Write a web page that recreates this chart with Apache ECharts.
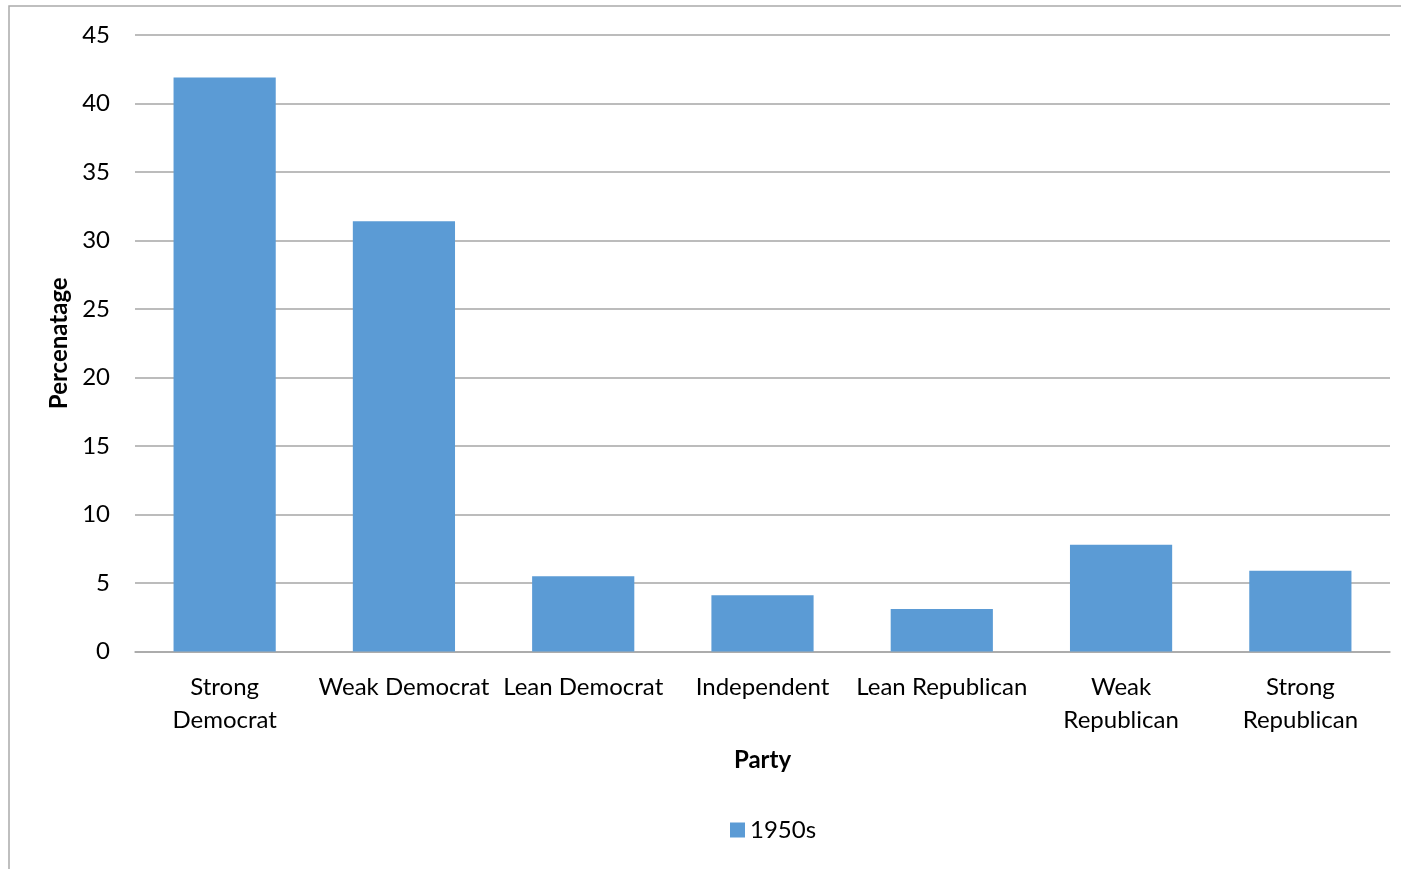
<!DOCTYPE html>
<html>
<head>
<meta charset="utf-8">
<script src="https://cdn.jsdelivr.net/npm/echarts@6/dist/echarts.min.js"></script>
<style>
  html, body { margin: 0; padding: 0; background: #ffffff; }
  #chart { width: 1401px; height: 869px; }
</style>
</head>
<body>
<div id="chart"></div>
<script>
// Party identification in the 1950s
const categories = ['Strong Democrat', 'Weak Democrat', 'Lean Democrat', 'Independent', 'Lean Republican', 'Weak Republican', 'Strong Republican'];
const tickLabels = ['Strong\nDemocrat', 'Weak Democrat', 'Lean Democrat', 'Independent', 'Lean Republican', 'Weak\nRepublican', 'Strong\nRepublican'];
const values1950s = [41.9, 31.4, 5.5, 4.1, 3.1, 7.8, 5.9];
const seriesName = '1950s';

const FONT = 'Lato, "Open Sans", sans-serif';
const chart = echarts.init(document.getElementById('chart'));

chart.setOption({
  animation: false,
  textStyle: { fontFamily: FONT },
  graphic: [{
    type: 'rect',
    shape: { x: 9, y: 6, width: 1500, height: 1000 },
    style: { fill: 'none', stroke: '#ababab', lineWidth: 1.5 },
    silent: true
  }],
  grid: { left: 135, right: 11, top: 35, bottom: 217.5 },
  legend: {
    data: [seriesName],
    top: 813,
    left: 725,
    itemWidth: 15,
    itemHeight: 15,
    itemGap: 8,
    icon: 'rect',
    textStyle: { fontFamily: FONT, fontSize: 24, color: '#000' }
  },
  xAxis: {
    type: 'category',
    data: categories,
    name: 'Party',
    nameLocation: 'middle',
    nameGap: 97,
    nameTextStyle: { fontFamily: FONT, fontSize: 24, fontWeight: 'bold', color: '#000', verticalAlign: 'top' },
    axisLine: { lineStyle: { color: '#a6a6a6', width: 1.5 } },
    axisTick: { show: false },
    axisLabel: {
      interval: 0,
      margin: 19,
      fontSize: 24,
      lineHeight: 33,
      color: '#000',
      fontFamily: FONT,
      formatter: (v, i) => tickLabels[i]
    }
  },
  yAxis: {
    type: 'value',
    min: 0,
    max: 45,
    interval: 5,
    name: 'Percenatage',
    nameLocation: 'middle',
    nameGap: 63,
    nameRotate: 90,
    nameTextStyle: { fontFamily: FONT, fontSize: 24, fontWeight: 'bold', color: '#000' },
    axisLine: { show: false },
    axisTick: { show: false },
    axisLabel: { margin: 25, fontSize: 24, color: '#000', fontFamily: FONT },
    splitLine: { lineStyle: { color: '#a6a6a6', width: 1.5 } }
  },
  series: [{
    name: seriesName,
    type: 'bar',
    data: values1950s,
    barCategoryGap: '43%',
    itemStyle: { color: '#5b9bd5' }
  }]
});
</script>
</body>
</html>
